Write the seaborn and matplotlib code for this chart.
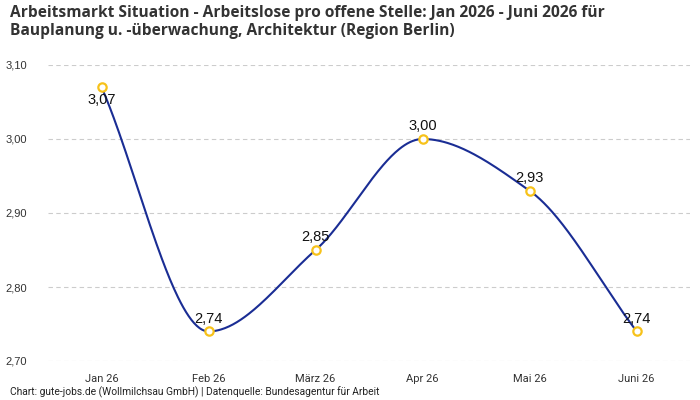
import numpy as np
import pandas as pd
import matplotlib
matplotlib.use("Agg")
import matplotlib.pyplot as plt
import seaborn as sns

months = ["Jan 26", "Feb 26", "März 26", "Apr 26", "Mai 26", "Juni 26"]
values = [3.07, 2.74, 2.85, 3.00, 2.93, 2.74]
yticks = [2.70, 2.80, 2.90, 3.00, 3.10]

def pchip(x, y, xs):
    x = np.asarray(x, float); y = np.asarray(y, float)
    h = np.diff(x); d = np.diff(y) / h
    n = len(x); m = np.zeros(n)
    for k in range(1, n - 1):
        if d[k - 1] * d[k] > 0:
            w1 = 2 * h[k] + h[k - 1]; w2 = h[k] + 2 * h[k - 1]
            m[k] = (w1 + w2) / (w1 / d[k - 1] + w2 / d[k])
    m[0] = d[0]; m[-1] = d[-1]
    out = np.empty_like(xs)
    for i, xv in enumerate(xs):
        k = min(max(np.searchsorted(x, xv) - 1, 0), n - 2)
        t = (xv - x[k]) / h[k]
        h00 = 2*t**3 - 3*t**2 + 1; h10 = t**3 - 2*t**2 + t
        h01 = -2*t**3 + 3*t**2; h11 = t**3 - t**2
        out[i] = h00*y[k] + h10*h[k]*m[k] + h01*y[k+1] + h11*h[k]*m[k+1]
    return out

sns.set_theme(style="white")
plt.rcParams['font.family'] = ['Roboto', 'DejaVu Sans']

fig = plt.figure(figsize=(7, 4), dpi=100)
ax = fig.add_axes([0.0686, 0.0975, 0.9174, 0.74])

pos = np.arange(len(months))
xs = np.linspace(0, len(months) - 1, 400)
df_line = pd.DataFrame({"x": xs, "y": pchip(pos, values, xs)})
df_pts = pd.DataFrame({"x": pos, "y": values})

sns.lineplot(data=df_line, x="x", y="y", ax=ax, color="#1a2d94", linewidth=1.5, zorder=3)
sns.scatterplot(data=df_pts, x="x", y="y", ax=ax, s=36, facecolor="white",
                edgecolor="#f7c21a", linewidth=1.6, zorder=4)

lab_font = ['Liberation Sans', 'DejaVu Sans']
for i, v in enumerate(values):
    lbl = f"{v:.2f}".replace(".", ",")
    if i == 0:
        ax.annotate(lbl, (i, v), xytext=(0, -4), textcoords="offset points",
                    ha="center", va="top", fontsize=10.5, color="#111111", family=lab_font)
    else:
        ax.annotate(lbl, (i, v), xytext=(0, 4), textcoords="offset points",
                    ha="center", va="bottom", fontsize=10.5, color="#111111", family=lab_font)

ax.set_xlim(-0.5, 5.5)
ax.set_ylim(2.70, 3.10)
ax.set_yticks(yticks)
ax.set_yticklabels([f"{t:.2f}".replace(".", ",") for t in yticks], family=lab_font)
ax.set_xticks(pos)
ax.set_xticklabels(months)
ax.tick_params(axis="y", length=0, pad=15, labelsize=8, labelcolor="#333333")
ax.tick_params(axis="x", length=0, pad=9, labelsize=8, labelcolor="#333333")
ax.set_xlabel(""); ax.set_ylabel("")
ax.grid(axis="y", color="#cccccc", linestyle=(0, (4, 3)), linewidth=0.8)
ax.grid(axis="x", visible=False)
for s in ax.spines.values():
    s.set_visible(False)

fig.text(0.014, 0.988, "Arbeitsmarkt Situation - Arbeitslose pro offene Stelle: Jan 2026 - Juni 2026 für\nBauplanung u. -überwachung, Architektur (Region Berlin)",
         ha="left", va="top", fontsize=11.2, fontweight="bold", color="#333333", linespacing=1.2,
         family=['Open Sans', 'DejaVu Sans'])
fig.text(0.014, 0.005, "Chart: gute-jobs.de (Wollmilchsau GmbH) | Datenquelle: Bundesagentur für Arbeit",
         ha="left", va="bottom", fontsize=7.4, color="#222222")

fig.savefig("out.png", dpi=100)
